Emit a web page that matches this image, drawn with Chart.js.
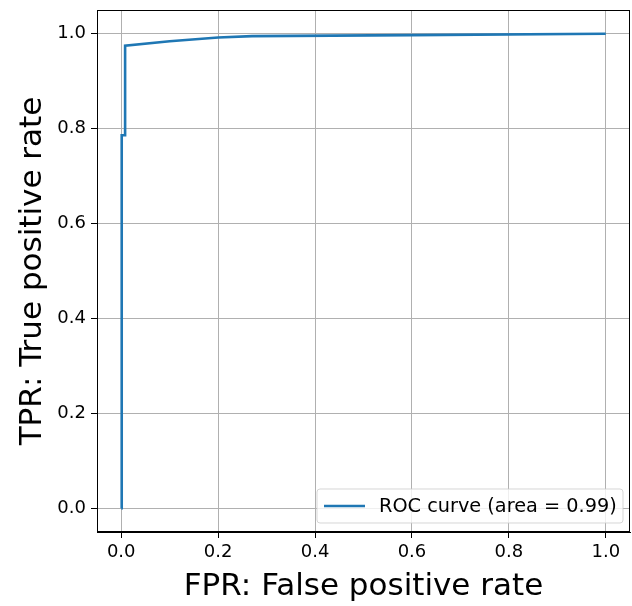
<!DOCTYPE html>
<html>
<head>
<meta charset="utf-8">
<script src="https://cdn.jsdelivr.net/npm/chart.js@4.4.0/dist/chart.umd.min.js"></script>
<style>
  html, body { margin: 0; padding: 0; background: #fff; }
  #wrap { width: 632px; height: 606px; position: relative; }
</style>
</head>
<body>
<div id="wrap"><canvas id="c" width="632" height="606"></canvas></div>
<script>
// ---- data ----
const fprValues = [0.0, 0.001, 0.008, 0.008, 0.10, 0.20, 0.27, 0.60, 1.0];
const tprValues = [0.0, 0.786, 0.786, 0.975, 0.984, 0.992, 0.995, 0.997, 1.0];
const xTickValues = [0.0, 0.2, 0.4, 0.6, 0.8, 1.0];
const yTickValues = [0.0, 0.2, 0.4, 0.6, 0.8, 1.0];
const seriesLabel = 'ROC curve (area = 0.99)';
const xTitle = 'FPR: False positive rate';
const yTitle = 'TPR: True positive rate';

const FONT = "'DejaVu Sans', sans-serif";
const LINE_COLOR = '#1f77b4';

const points = fprValues.map((x, i) => ({ x: x, y: tprValues[i] }));

const framePlugin = {
  id: 'frame',
  afterDatasetsDraw(chart) {
    const { ctx, chartArea: a } = chart;
    ctx.save();
    ctx.strokeStyle = '#000';
    ctx.lineWidth = 1;
    ctx.strokeRect(a.left + 0.5, a.top + 0.5, a.right - a.left - 1, a.bottom - a.top - 1);
    ctx.restore();
  }
};

const legendPlugin = {
  id: 'boxLegend',
  afterDraw(chart) {
    const { ctx, chartArea: a } = chart;
    const ds = chart.data.datasets[0];
    const w = 306, h = 34;
    const x = a.right - 7 - w, y = a.bottom - 9 - h;
    ctx.save();
    ctx.fillStyle = 'rgba(255,255,255,0.8)';
    ctx.strokeStyle = 'rgba(204,204,204,0.8)';
    ctx.lineWidth = 1;
    const r = 3;
    ctx.beginPath();
    ctx.moveTo(x + r, y);
    ctx.lineTo(x + w - r, y);
    ctx.quadraticCurveTo(x + w, y, x + w, y + r);
    ctx.lineTo(x + w, y + h - r);
    ctx.quadraticCurveTo(x + w, y + h, x + w - r, y + h);
    ctx.lineTo(x + r, y + h);
    ctx.quadraticCurveTo(x, y + h, x, y + h - r);
    ctx.lineTo(x, y + r);
    ctx.quadraticCurveTo(x, y, x + r, y);
    ctx.closePath();
    ctx.fill();
    ctx.stroke();
    const cy = y + h / 2;
    ctx.strokeStyle = ds.borderColor;
    ctx.lineWidth = ds.borderWidth;
    ctx.beginPath();
    ctx.moveTo(x + 7, cy);
    ctx.lineTo(x + 48, cy);
    ctx.stroke();
    ctx.fillStyle = '#000';
    ctx.font = '19.3px ' + FONT;
    ctx.textBaseline = 'middle';
    ctx.textAlign = 'left';
    ctx.fillText(ds.label, x + 62, cy + 1);
    ctx.restore();
  }
};

new Chart(document.getElementById('c'), {
  type: 'line',
  data: {
    datasets: [{
      label: seriesLabel,
      data: points,
      borderColor: LINE_COLOR,
      backgroundColor: LINE_COLOR,
      borderWidth: 2.6,
      pointRadius: 0,
      tension: 0,
      fill: false
    }]
  },
  options: {
    responsive: false,
    animation: false,
    layout: { padding: { top: 10, right: 2, left: 0, bottom: 0 } },
    plugins: { legend: { display: false }, tooltip: { enabled: false } },
    scales: {
      x: {
        type: 'linear',
        min: -0.05, max: 1.05,
        afterBuildTicks: s => { s.ticks = xTickValues.map(v => ({ value: v })); },
        afterFit: s => { s.height = 74; s.paddingLeft = 0; s.paddingRight = 0; },
        border: { display: true, color: '#000', width: 1 },
        grid: { color: '#b0b0b0', lineWidth: 1, drawTicks: true, tickLength: 6, tickColor: '#000' },
        ticks: {
          color: '#000', padding: 4,
          font: { family: FONT, size: 18 },
          callback: v => Number(v).toFixed(1),
          maxRotation: 0
        },
        title: {
          display: true, text: xTitle, color: '#000',
          font: { family: FONT, size: 31 }, padding: { top: 2, bottom: 0 }
        }
      },
      y: {
        type: 'linear',
        min: -0.05, max: 1.05,
        afterBuildTicks: s => { s.ticks = yTickValues.map(v => ({ value: v })); },
        afterFit: s => { s.width = 97; s.paddingTop = 0; s.paddingBottom = 0; },
        border: { display: true, color: '#000', width: 1 },
        grid: { color: '#b0b0b0', lineWidth: 1, drawTicks: true, tickLength: 6, tickColor: '#000' },
        ticks: {
          color: '#000', padding: 5,
          font: { family: FONT, size: 18 },
          callback: v => Number(v).toFixed(1)
        },
        title: {
          display: true, text: yTitle, color: '#000',
          font: { family: FONT, size: 31 }, padding: { top: 14, bottom: 6 }
        }
      }
    }
  },
  plugins: [framePlugin, legendPlugin]
});
</script>
</body>
</html>
